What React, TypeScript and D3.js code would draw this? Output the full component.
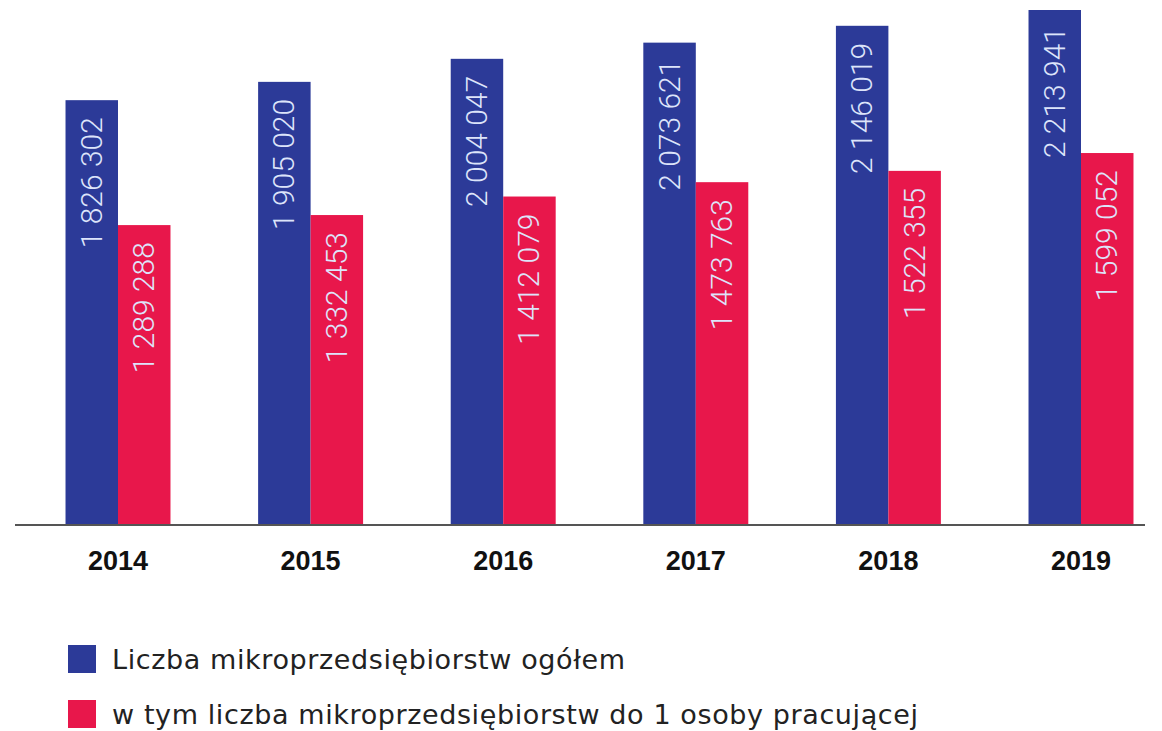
import { useEffect } from 'react';
import * as d3 from 'd3';

const years = ['2014', '2015', '2016', '2017', '2018', '2019'];
const totalValues = [1826302, 1905020, 2004047, 2073621, 2146019, 2213941];
const soloValues = [1289288, 1332453, 1412079, 1473763, 1522355, 1599052];
const seriesNames = [
  'Liczba mikroprzedsiębiorstw ogółem',
  'w tym liczba mikroprzedsiębiorstw do 1 osoby pracującej',
];
const legendWidths = [513, 806];
const COLORS = ['#2c3a98', '#e8174b'];

const W = 1162;
const H = 731;
const baseY = 525;

const fmt = (v: number) => d3.format(',')(v).replace(/,/g, ' ');

export default function App() {
  useEffect(() => {
    document.body.style.margin = '0';
  }, []);

  const x = d3.scaleBand<string>()
    .domain(years)
    .range([21.7, 1177.3])
    .paddingInner(0.455)
    .paddingOuter(0.2275);
  const xs = d3.scaleBand<string>().domain(['total', 'solo']).range([0, x.bandwidth()]);
  const y = d3.scaleLinear().domain([0, 2213941]).range([baseY, 10]);

  const rows = years.map((yr, i) => ({ yr, total: totalValues[i], solo: soloValues[i] }));

  return (
    <svg width={W} height={H} style={{ display: 'block', background: '#fff' }}>
      {rows.map(r => (
        <g key={r.yr} transform={`translate(${x(r.yr)},0)`}>
          {(['total', 'solo'] as const).map((k, j) => {
            const v = r[k];
            const bx = xs(k)!;
            const bw = xs.bandwidth();
            const top = y(v);
            return (
              <g key={k}>
                <rect x={bx} y={top} width={bw} height={baseY - top} fill={COLORS[j]} />
                <text
                  transform={`translate(${bx + bw / 2 + 10},${top + 17}) rotate(-90)`}
                  textAnchor="end"
                  fill="#dde4fa"
                  fontFamily="Roboto"
                  fontWeight={300}
                  fontSize={30}
                >
                  {fmt(v)}
                </text>
              </g>
            );
          })}
          <text
            x={x.bandwidth() / 2}
            y={570}
            textAnchor="middle"
            fontFamily="Liberation Sans, Arial, sans-serif"
            fontWeight="bold"
            fontSize={27}
            fill="#111"
          >
            {r.yr}
          </text>
        </g>
      ))}
      <line x1={15} x2={1145} y1={baseY} y2={baseY} stroke="#555" strokeWidth={2} />
      {seriesNames.map((name, i) => (
        <g key={name} transform={`translate(68,${645 + i * 55})`}>
          <rect width={28} height={28} fill={COLORS[i]} />
          <text
            x={44}
            y={24}
            fontFamily="DejaVu Sans, sans-serif"
            fontSize={27}
            fill="#222"
            textLength={legendWidths[i]}
            lengthAdjust="spacing"
          >
            {name}
          </text>
        </g>
      ))}
    </svg>
  );
}
